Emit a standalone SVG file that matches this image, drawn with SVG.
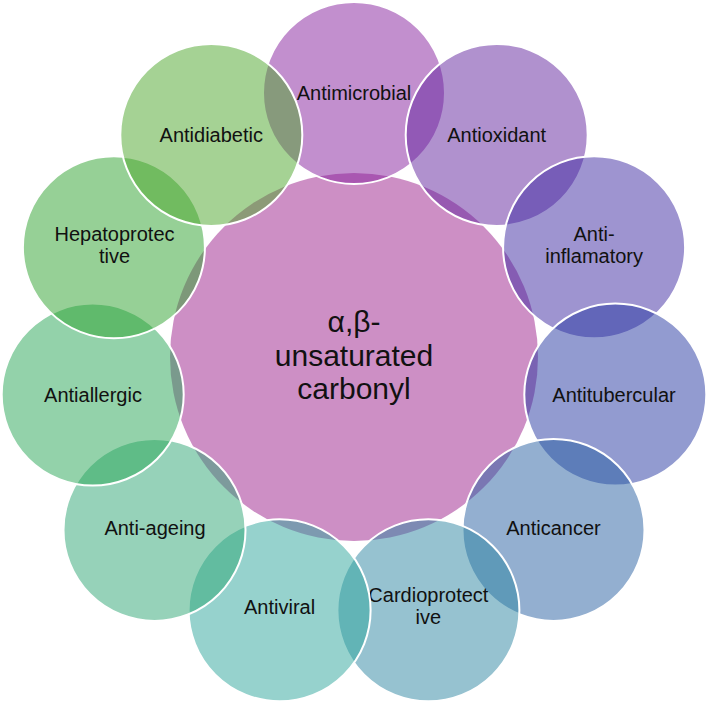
<svg xmlns="http://www.w3.org/2000/svg" width="709" height="702" viewBox="0 0 709 702">
<style>
.c{stroke:#ffffff;stroke-width:2;fill-opacity:0.5}
.t{font-family:"Liberation Sans",Arial,sans-serif;font-size:20px;fill:#111111;text-anchor:middle}
.ct{font-family:"Liberation Sans",Arial,sans-serif;font-size:30px;fill:#111111;text-anchor:middle}
</style>
<rect width="709" height="702" fill="#ffffff"/>
<g id="center">
<circle cx="354" cy="357" r="184" fill="#CD8FC5"/>
<text class="ct" x="354" y="332">α,β-</text>
<text class="ct" x="354" y="366">unsaturated</text>
<text class="ct" x="354" y="399">carbonyl</text>
</g>
<g id="connectors"></g>
<g id="n-antimicrobial">
<circle class="c" cx="354" cy="93" r="91" fill="#851F9D"/>
<text class="t" x="354" y="100">Antimicrobial</text>
</g>
<g id="n-antioxidant">
<circle class="c" cx="496.7" cy="134.9" r="91" fill="#61239D"/>
<text class="t" x="496.7" y="141.9">Antioxidant</text>
</g>
<g id="n-antiinflamatory">
<circle class="c" cx="594.1" cy="247.3" r="91" fill="#3D29A1"/>
<text class="t" x="594.1" y="241.3">Anti-</text>
<text class="t" x="594.1" y="263.3">inflamatory</text>
</g>
<g id="n-antitubercular">
<circle class="c" cx="615.3" cy="394.6" r="91" fill="#2537A1"/>
<text class="t" x="614" y="401.6">Antitubercular</text>
</g>
<g id="n-anticancer">
<circle class="c" cx="553.5" cy="529.9" r="91" fill="#275FA1"/>
<text class="t" x="553.5" y="534.9">Anticancer</text>
</g>
<g id="n-cardioprotective">
<circle class="c" cx="428.4" cy="610.3" r="91" fill="#2D85A1"/>
<text class="t" x="428.4" y="602.3">Cardioprotect</text>
<text class="t" x="428.4" y="624.3">ive</text>
</g>
<g id="n-antiviral">
<circle class="c" cx="279.6" cy="610.3" r="91" fill="#2DA59B"/>
<text class="t" x="279.6" y="614.3">Antiviral</text>
</g>
<g id="n-antiageing">
<circle class="c" cx="154.5" cy="529.9" r="91" fill="#2DA573"/>
<text class="t" x="155" y="534.9">Anti-ageing</text>
</g>
<g id="n-antiallergic">
<circle class="c" cx="92.7" cy="394.6" r="91" fill="#27A555"/>
<text class="t" x="93" y="401.6">Antiallergic</text>
</g>
<g id="n-hepatoprotective">
<circle class="c" cx="113.9" cy="247.3" r="91" fill="#2DA12D"/>
<text class="t" x="114.5" y="241.3">Hepatoprotec</text>
<text class="t" x="114.5" y="263.3">tive</text>
</g>
<g id="n-antidiabetic">
<circle class="c" cx="211.3" cy="134.9" r="91" fill="#4BA529"/>
<text class="t" x="211.3" y="141.9">Antidiabetic</text>
</g>
</svg>
